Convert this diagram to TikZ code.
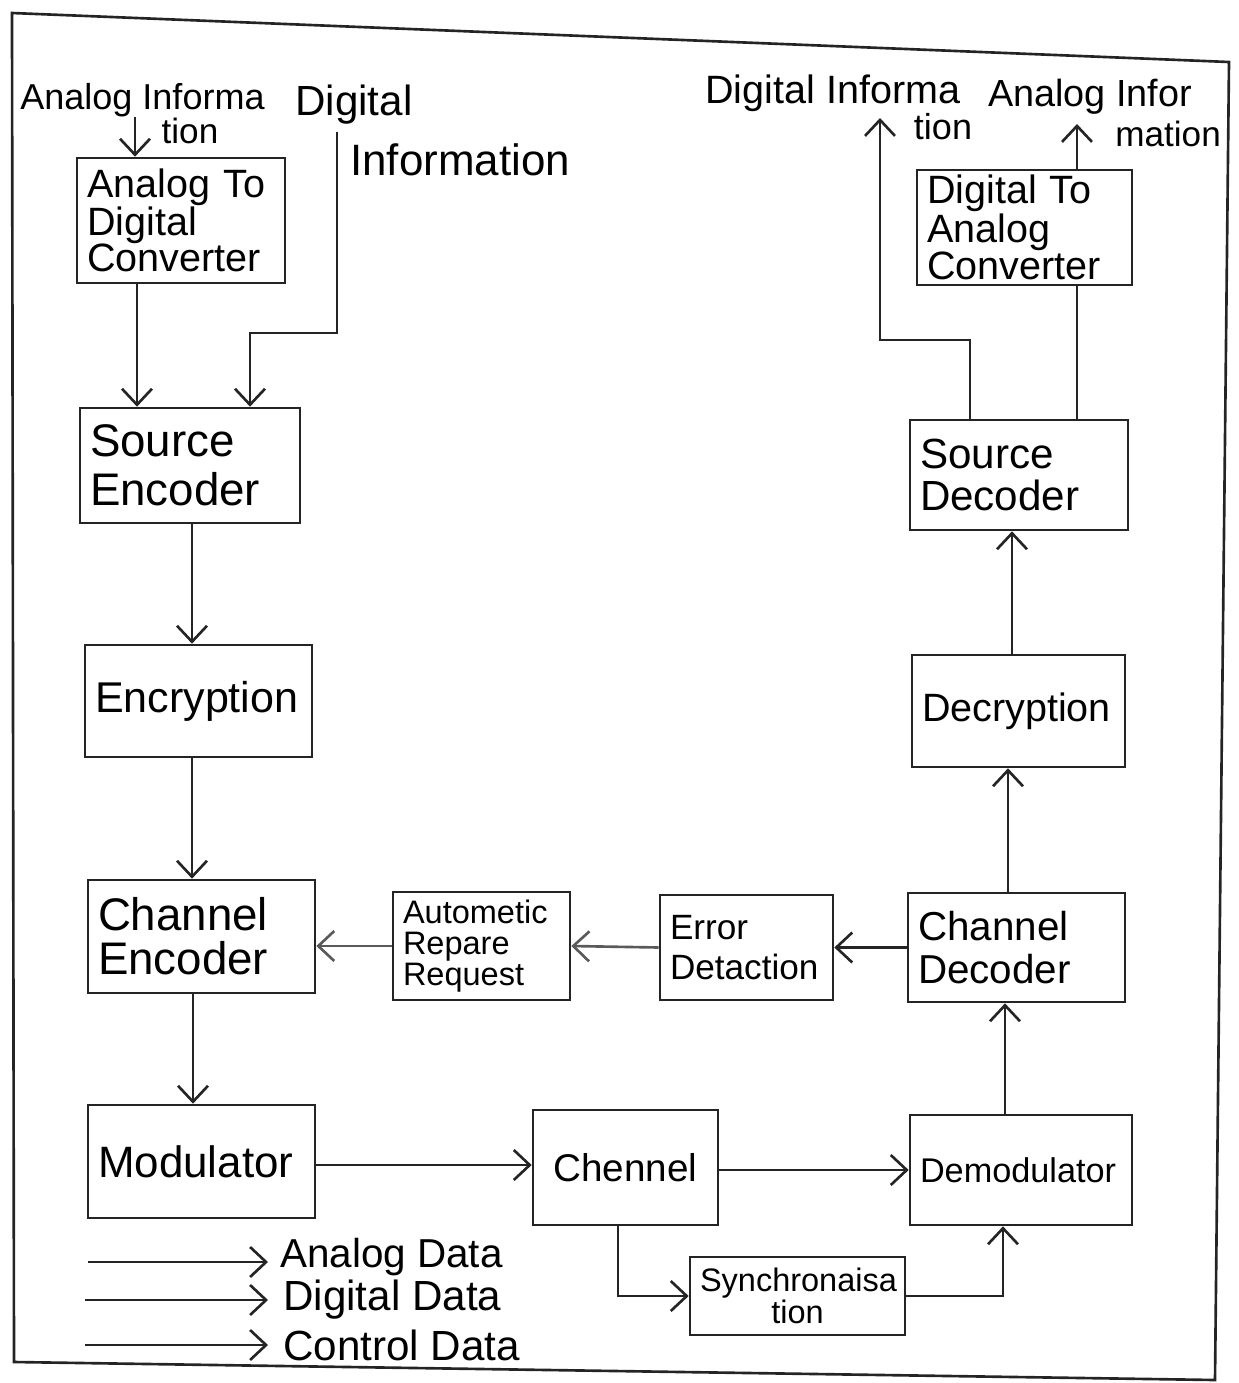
\documentclass[tikz,border=0pt]{standalone}
\usepackage{fontspec}
\setmainfont{Liberation Sans}
\usetikzlibrary{arrows.meta}
\definecolor{ink}{HTML}{242424}
\definecolor{inklight}{HTML}{5A5A5A}
\newcommand\fsz[2]{\fontsize{#1pt}{#2pt}\selectfont}
\tikzset{
  ln/.style={draw=ink, line width=1.5pt},
  arr/.style={ln, -{Straight Barb[length=0.32cm,width=0.6cm]}},
  lightarr/.style={arr, draw=inklight},
  box/.style={draw=ink, line width=1.5pt, inner xsep=0.2cm, inner ysep=0pt, align=left, text=black},
  bx/.code 2 args={%
    \pgfmathsetlengthmacro\bxw{#1*0.02cm}%
    \pgfmathsetlengthmacro\bxh{#2*0.02cm}%
    \pgfmathsetlengthmacro\bxt{(#1-20)*0.02cm}%
    \edef\bxtmp{\noexpand\pgfkeysalso{minimum width=\bxw,minimum height=\bxh,text width=\bxt}}\bxtmp},
  lbl/.style={inner sep=0pt, text=black}
}
\begin{document}
\begin{tikzpicture}[x=0.02cm,y=-0.02cm]
\useasboundingbox (0,0) rectangle (1239,1383);
% frame
\draw[ln] (12,13) -- (1229,62) -- (1215,1380) -- (14,1362) -- cycle;

% ---------- boxes, transmitter side ----------
\node[box, bx={208}{125}, font=\fsz{22.5}{20.5}] (adc) at (181,220.5) {Analog To\\Digital\\Converter};
\node[box, bx={220}{115}, font=\fsz{26}{28}] (se) at (190,465.5) {Source\\Encoder};
\node[box, bx={227}{112}, font=\fsz{24.5}{28}] (enc) at (198.5,701) {Encryption};
\node[box, bx={227}{113}, font=\fsz{26}{25}] (ce) at (201.5,936.5) {Channel\\Encoder};
\node[box, bx={227}{113}, font=\fsz{25}{28}] (mod) at (201.5,1161.5) {Modulator};
% ---------- middle ----------
\node[box, bx={185}{115}, font=\fsz{22}{26}, align=center] (ch) at (625.5,1167.5) {Chennel};
\node[box, bx={215}{78}, font=\fsz{18.5}{15}, align=center, inner xsep=0.1cm] (syn) at (797.5,1296) {Synchronaisa\\tion};
\node[box, bx={177}{108}, font=\fsz{18.5}{17.5}] (arq) at (481.5,946) {Autometic\\Repare\\Request};
\node[box, bx={173}{105}, font=\fsz{20}{23}] (ed) at (746.5,947.5) {Error\\Detaction};
% ---------- receiver side ----------
\node[box, bx={222}{110}, font=\fsz{19.5}{24}] (dem) at (1021,1170) {Demodulator};
\node[box, bx={217}{109}, font=\fsz{23}{24}] (cd) at (1016.5,947.5) {Channel\\Decoder};
\node[box, bx={213}{112}, font=\fsz{22.5}{26}] (dec) at (1018.5,711) {Decryption};
\node[box, bx={218}{110}, font=\fsz{24}{24}] (sd) at (1019,475) {Source\\Decoder};
\node[box, bx={215}{115}, font=\fsz{22.5}{20}] (dac) at (1024.5,227.5) {Digital To\\Analog\\Converter};

% ---------- labels ----------
\node[lbl, anchor=west, font=\fsz{20.5}{24}] (ai1) at (20,100) {Analog Informa};
\node[lbl, font=\fsz{20}{24}] (ai2) at (190,131) {tion};
\node[lbl, anchor=west, font=\fsz{24}{28}] (di1) at (295,105) {Digital};
\node[lbl, anchor=west, font=\fsz{25}{28}] (di2) at (350,160) {Information};
\node[lbl, anchor=west, font=\fsz{22.5}{26}] (do1) at (705,93) {Digital Informa};
\node[lbl, font=\fsz{20.5}{24}] (do2) at (943,127) {tion};
\node[lbl, anchor=west, font=\fsz{21.5}{24}] (ao1) at (988,97) {Analog Infor};
\node[lbl, anchor=west, font=\fsz{20}{24}] (ao2) at (1115,134) {mation};

% helper coordinates
\coordinate (x135) at (135,0);
\coordinate (x137) at (137,0);
\coordinate (x192) at (192,0);
\coordinate (x193) at (193,0);
\coordinate (x618) at (618,0);
\coordinate (x970) at (970,0);
\coordinate (x1003) at (1003,0);
\coordinate (x1005) at (1005,0);
\coordinate (x1008) at (1008,0);
\coordinate (x1012) at (1012,0);
\coordinate (x1077) at (1077,0);
\coordinate (y1165) at (0,1165);
\coordinate (y1170) at (0,1170);
\coordinate (dI) at (337,132);
\coordinate (kA) at (250,333);
\coordinate (kB) at (880,340);
\coordinate (tipD) at (880,118);
\coordinate (tipA) at (1077,124);

% ---------- connectors ----------
\draw[arr] (ai1.south -| x135) -- (adc.north -| x135);
\draw[arr] (dI) |- (kA) -- (se.north -| kA);
\draw[arr] (adc.south -| x137) -- (se.north -| x137);
\draw[arr] (se.south -| x192) -- (enc.north -| x192);
\draw[arr] (enc.south -| x192) -- (ce.north -| x192);
\draw[arr] (ce.south -| x193) -- (mod.north -| x193);
\draw[arr] (mod.east |- y1165) -- (ch.west |- y1165);
\draw[arr] (ch.east |- y1170) -- (dem.west |- y1170);
\draw[arr] (ch.south -| x618) |- (syn.west);
\draw[arr] (syn.east) -| (dem.south -| x1003);
\draw[arr] (dem.north -| x1005) -- (cd.south -| x1005);
\draw[arr] (cd.west) -- (ed.east);
\draw[lightarr] (ed.west) -- (arq.east);
\draw[lightarr] (arq.west) -- (ce.east |- arq.west);
\draw[arr] (cd.north -| x1008) -- (dec.south -| x1008);
\draw[arr] (dec.north -| x1012) -- (sd.south -| x1012);
\draw[arr] (sd.north -| x970) |- (kB) -- (tipD);
\draw[ln] (sd.north -| x1077) -- (dac.south -| x1077);
\draw[arr] (dac.north -| x1077) -- (tipA);

% ---------- legend ----------
\coordinate (l1a) at (88,1262);  \coordinate (l1b) at (268,1262);
\coordinate (l2a) at (85,1300);  \coordinate (l2b) at (268,1300);
\coordinate (l3a) at (85,1345);  \coordinate (l3b) at (268,1345);
\draw[arr] (l1a) -- (l1b);
\draw[arr] (l2a) -- (l2b);
\draw[arr] (l3a) -- (l3b);
\node[lbl, anchor=west, font=\fsz{23}{26}] (lg1) at (280,1257) {Analog Data};
\node[lbl, anchor=west, font=\fsz{24}{26}] (lg2) at (283,1300) {Digital Data};
\node[lbl, anchor=west, font=\fsz{24}{26}] (lg3) at (283,1345) {Control Data};
\end{tikzpicture}
\end{document}
